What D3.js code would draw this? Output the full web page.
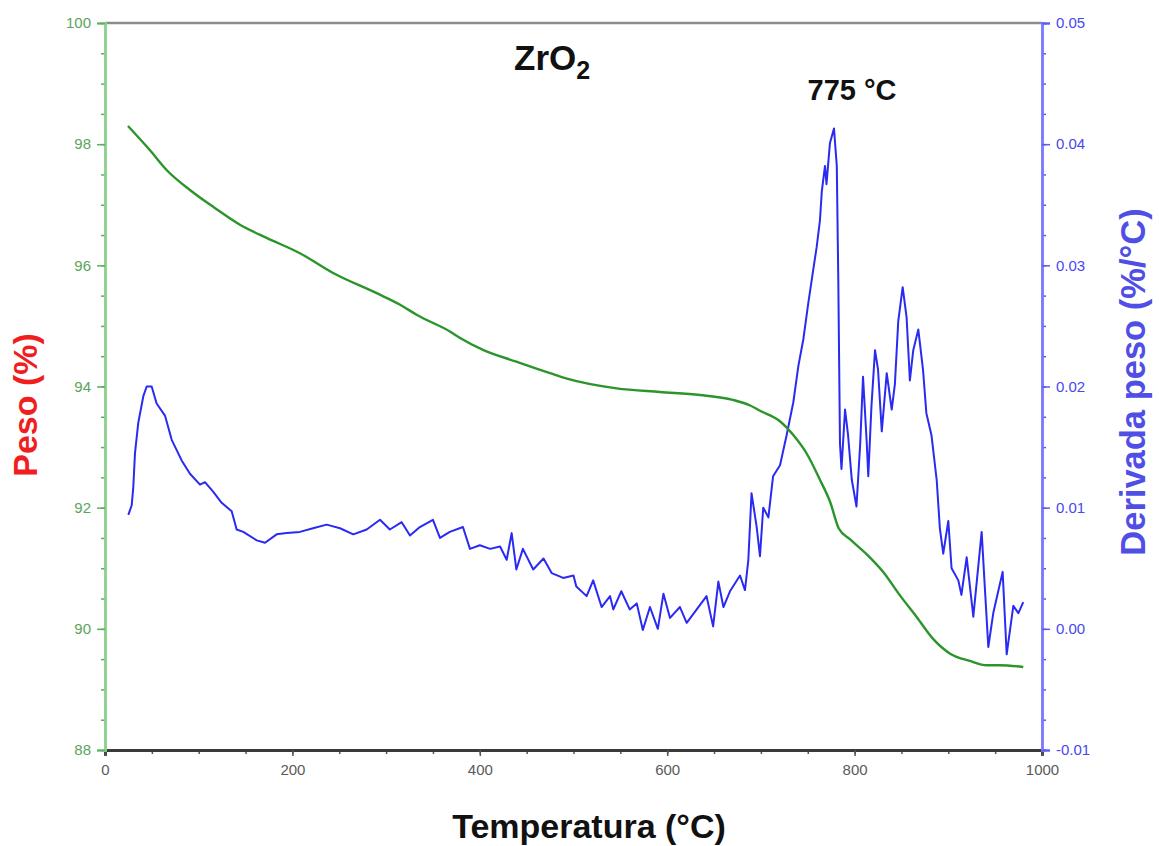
<!DOCTYPE html>
<html><head><meta charset="utf-8">
<script src="https://cdn.jsdelivr.net/npm/d3@7/dist/d3.min.js"></script>
<style>
html,body{margin:0;padding:0;background:#fff;}
svg{display:block;font-family:"Liberation Sans",Arial,sans-serif;}
</style></head>
<body>
<svg id="chart" width="1159" height="846"></svg>
<script>
// ---------- data ----------
const xTicks = [0, 200, 400, 600, 800, 1000];
const xTickLabels = ["0", "200", "400", "600", "800", "1000"];
const leftTicks = [88, 90, 92, 94, 96, 98, 100];
const leftTickLabels = ["88", "90", "92", "94", "96", "98", "100"];
const rightTicks = [-0.01, 0.00, 0.01, 0.02, 0.03, 0.04, 0.05];
const rightTickLabels = ["-0.01", "0.00", "0.01", "0.02", "0.03", "0.04", "0.05"];

// Peso (%) vs temperature
const pesoT = [24.5, 48, 66, 91, 116, 144, 173, 208, 244, 290, 315, 333, 369, 379, 404, 439, 475, 493,
  546, 592, 635, 670, 688, 699, 720, 735, 749, 763, 774, 783, 795, 813, 831, 848, 866, 884, 902, 923, 941, 955, 980];
const pesoV = [98.30, 97.90, 97.57, 97.24, 96.96, 96.67, 96.45, 96.20, 95.87, 95.54, 95.35, 95.18, 94.90, 94.80, 94.60, 94.41, 94.22, 94.13,
  93.97, 93.91, 93.86, 93.78, 93.69, 93.60, 93.43, 93.19, 92.89, 92.46, 92.09, 91.66, 91.48, 91.23, 90.93, 90.56, 90.20, 89.83, 89.59, 89.47, 89.40, 89.40, 89.37];

// Derivada peso (%/°C) vs temperature
const derivT = [24.9, 28.5, 30.2, 32, 35.5, 40.9, 44.5, 49.8, 55.1, 64, 71.2, 81.8, 90.7, 101.4, 106.7, 115.6, 124.5, 135.2, 140.5, 147.6,
  161.9, 170.8, 183.2, 193.9, 208, 222, 236.6, 250.8, 265, 279.3, 293.5, 304, 316.6, 325.5, 336, 350, 357.5, 368, 382, 389.5,
  400, 411, 421.6, 428.7, 434, 439, 446, 457, 468, 476.7, 489, 500, 503, 514, 521, 530, 539, 542.5, 551, 560,
  567.5, 574, 581.6, 590, 596, 603, 613.6, 620.8, 631.5, 642, 649, 654.6, 660, 667, 677.7, 683, 686.6, 690, 695.5, 699,
  702.5, 708, 713, 720.4, 727.5, 734.6, 740, 745.3, 750.6, 756, 759.5, 763, 765, 768.4, 770, 773.7, 778, 781, 782.6, 784.4,
  786, 789.8, 793, 797, 802, 806, 809, 813, 814.6, 818, 821.8, 825, 829, 834.3, 839.6, 843, 846.6, 851.3, 855.5, 859,
  862.6, 868, 873, 876.6, 882, 887.6, 891, 894.6, 900, 903.5, 910.7, 914, 919.6, 926.7, 935.6, 939, 942.7, 948, 958, 962.3,
  969.4, 974.8, 980];
const derivV = [0.0094, 0.0102, 0.0117, 0.0145, 0.0170, 0.0192, 0.0200, 0.0200, 0.0186, 0.0176, 0.0156, 0.0139, 0.0128, 0.0119, 0.0121, 0.0113, 0.0104, 0.0097, 0.0082, 0.0080,
  0.0073, 0.0071, 0.0078, 0.0079, 0.0080, 0.0083, 0.0086, 0.0083, 0.0078, 0.0082, 0.0090, 0.0082, 0.0088, 0.0077, 0.0084, 0.0090, 0.0075, 0.0080, 0.0084, 0.0066,
  0.0069, 0.0066, 0.0068, 0.0057, 0.0079, 0.0049, 0.0066, 0.0049, 0.0058, 0.0046, 0.0042, 0.0044, 0.0035, 0.0027, 0.0040, 0.0018, 0.0027, 0.0016, 0.0031, 0.0016,
  0.0021, -0.0001, 0.0018, 0.0000, 0.0029, 0.0009, 0.0018, 0.0005, 0.0016, 0.0027, 0.0002, 0.0039, 0.0018, 0.0031, 0.0044, 0.0032, 0.0057, 0.0112, 0.0084, 0.0060,
  0.0100, 0.0092, 0.0126, 0.0135, 0.0160, 0.0187, 0.0217, 0.0239, 0.0269, 0.0297, 0.0315, 0.0337, 0.0361, 0.0382, 0.0367, 0.0401, 0.0413, 0.0382, 0.0288, 0.0153,
  0.0132, 0.0181, 0.0160, 0.0123, 0.0101, 0.0153, 0.0208, 0.0153, 0.0126, 0.0184, 0.0230, 0.0214, 0.0163, 0.0211, 0.0181, 0.0202, 0.0254, 0.0282, 0.0257, 0.0205,
  0.0230, 0.0247, 0.0214, 0.0178, 0.0160, 0.0123, 0.0083, 0.0062, 0.0089, 0.0050, 0.0040, 0.0028, 0.0059, 0.0010, 0.0080, 0.0034, -0.0015, 0.0013, 0.0047, -0.0021,
  0.0019, 0.0013, 0.0022];

// ---------- layout ----------
const svg = d3.select("#chart");
const L = 105, R = 1042, T = 23, B = 750;
const x = d3.scaleLinear().domain([0, 1000]).range([L, R]);
const yL = d3.scaleLinear().domain([88, 100]).range([B, T]);
const yR = d3.scaleLinear().domain([-0.01, 0.05]).range([B, T]);

// top frame line
svg.append("line").attr("x1", L).attr("x2", R).attr("y1", T).attr("y2", T)
  .attr("stroke", "#8c8c8c").attr("stroke-width", 2.5);

// curves
const pesoData = pesoT.map((t, i) => [t, pesoV[i]]);
const derivData = derivT.map((t, i) => [t, derivV[i]]);

svg.append("path").datum(derivData)
  .attr("fill", "none").attr("stroke", "#2a2af2").attr("stroke-width", 2)
  .attr("stroke-linejoin", "round")
  .attr("d", d3.line().x(d => x(d[0])).y(d => yR(d[1])));

svg.append("path").datum(pesoData)
  .attr("fill", "none").attr("stroke", "#2b952b").attr("stroke-width", 2.4)
  .attr("stroke-linejoin", "round")
  .attr("d", d3.line().curve(d3.curveMonotoneX).x(d => x(d[0])).y(d => yL(d[1])));

// ---------- axes ----------
function minorValues(a, b, step) {
  const out = [];
  const n = Math.round((b - a) / step);
  for (let i = 0; i <= n; i++) out.push(a + i * step);
  return out;
}

// bottom
const gx = svg.append("g").attr("transform", `translate(0,${B})`);
gx.call(d3.axisBottom(x).tickValues(minorValues(0, 1000, 50)).tickSize(4).tickFormat(""));
gx.call(g => g.append("g").call(d3.axisBottom(x).tickValues(xTicks).tickSize(6).tickPadding(8)
  .tickFormat((d, i) => xTickLabels[i])));
gx.selectAll(".domain").attr("stroke", "#3a3a3a").attr("stroke-width", 2.8);
gx.selectAll("line").attr("stroke", "#555").attr("stroke-width", 1.5);
gx.selectAll("text").attr("fill", "#5a5a5a").style("font-size", "15px");

// left
const gl = svg.append("g").attr("transform", `translate(${L},0)`);
gl.call(d3.axisLeft(yL).tickValues(minorValues(88, 100, 0.5)).tickSize(4).tickFormat(""));
gl.call(g => g.append("g").call(d3.axisLeft(yL).tickValues(leftTicks).tickSize(8).tickPadding(6)
  .tickFormat((d, i) => leftTickLabels[i])));
gl.selectAll(".domain").attr("stroke", "#8fd08f").attr("stroke-width", 2.5);
gl.selectAll("line").attr("stroke", "#5fae5f").attr("stroke-width", 1.5);
gl.selectAll("text").attr("fill", "#5aa55a").style("font-size", "15px");

// right
const gr = svg.append("g").attr("transform", `translate(${R},0)`);
gr.call(d3.axisRight(yR).tickValues(minorValues(-0.01, 0.05, 0.0025)).tickSize(4).tickFormat(""));
gr.call(g => g.append("g").call(d3.axisRight(yR).tickValues(rightTicks).tickSize(8).tickPadding(6)
  .tickFormat((d, i) => rightTickLabels[i])));
gr.selectAll(".domain").attr("stroke", "#7b7bff").attr("stroke-width", 2.5);
gr.selectAll("line").attr("stroke", "#5a5af5").attr("stroke-width", 1.5);
gr.selectAll("text").attr("fill", "#4848ee").style("font-size", "15px");

// ---------- titles ----------
const title = svg.append("text").attr("x", 514).attr("y", 70)
  .attr("font-weight", "bold").attr("font-size", 35).attr("fill", "#111");
title.append("tspan").text("ZrO");
title.append("tspan").attr("dy", 9).attr("font-size", 25).text("2");

svg.append("text").attr("x", 852).attr("y", 100).attr("text-anchor", "middle")
  .attr("font-weight", "bold").attr("font-size", 29).attr("fill", "#111").text("775 °C");

svg.append("text").attr("x", 589).attr("y", 838).attr("text-anchor", "middle")
  .attr("font-weight", "bold").attr("font-size", 34).attr("fill", "#111").text("Temperatura (°C)");

svg.append("text").attr("transform", "translate(37,405) rotate(-90)").attr("text-anchor", "middle")
  .attr("font-weight", "bold").attr("font-size", 34).attr("fill", "#f01e1e").text("Peso (%)");

svg.append("text").attr("transform", "translate(1145,382) rotate(-90)").attr("text-anchor", "middle")
  .attr("font-weight", "bold").attr("font-size", 34.5).attr("fill", "#4f4fe6").text("Derivada peso (%/°C)");
</script>
</body></html>
